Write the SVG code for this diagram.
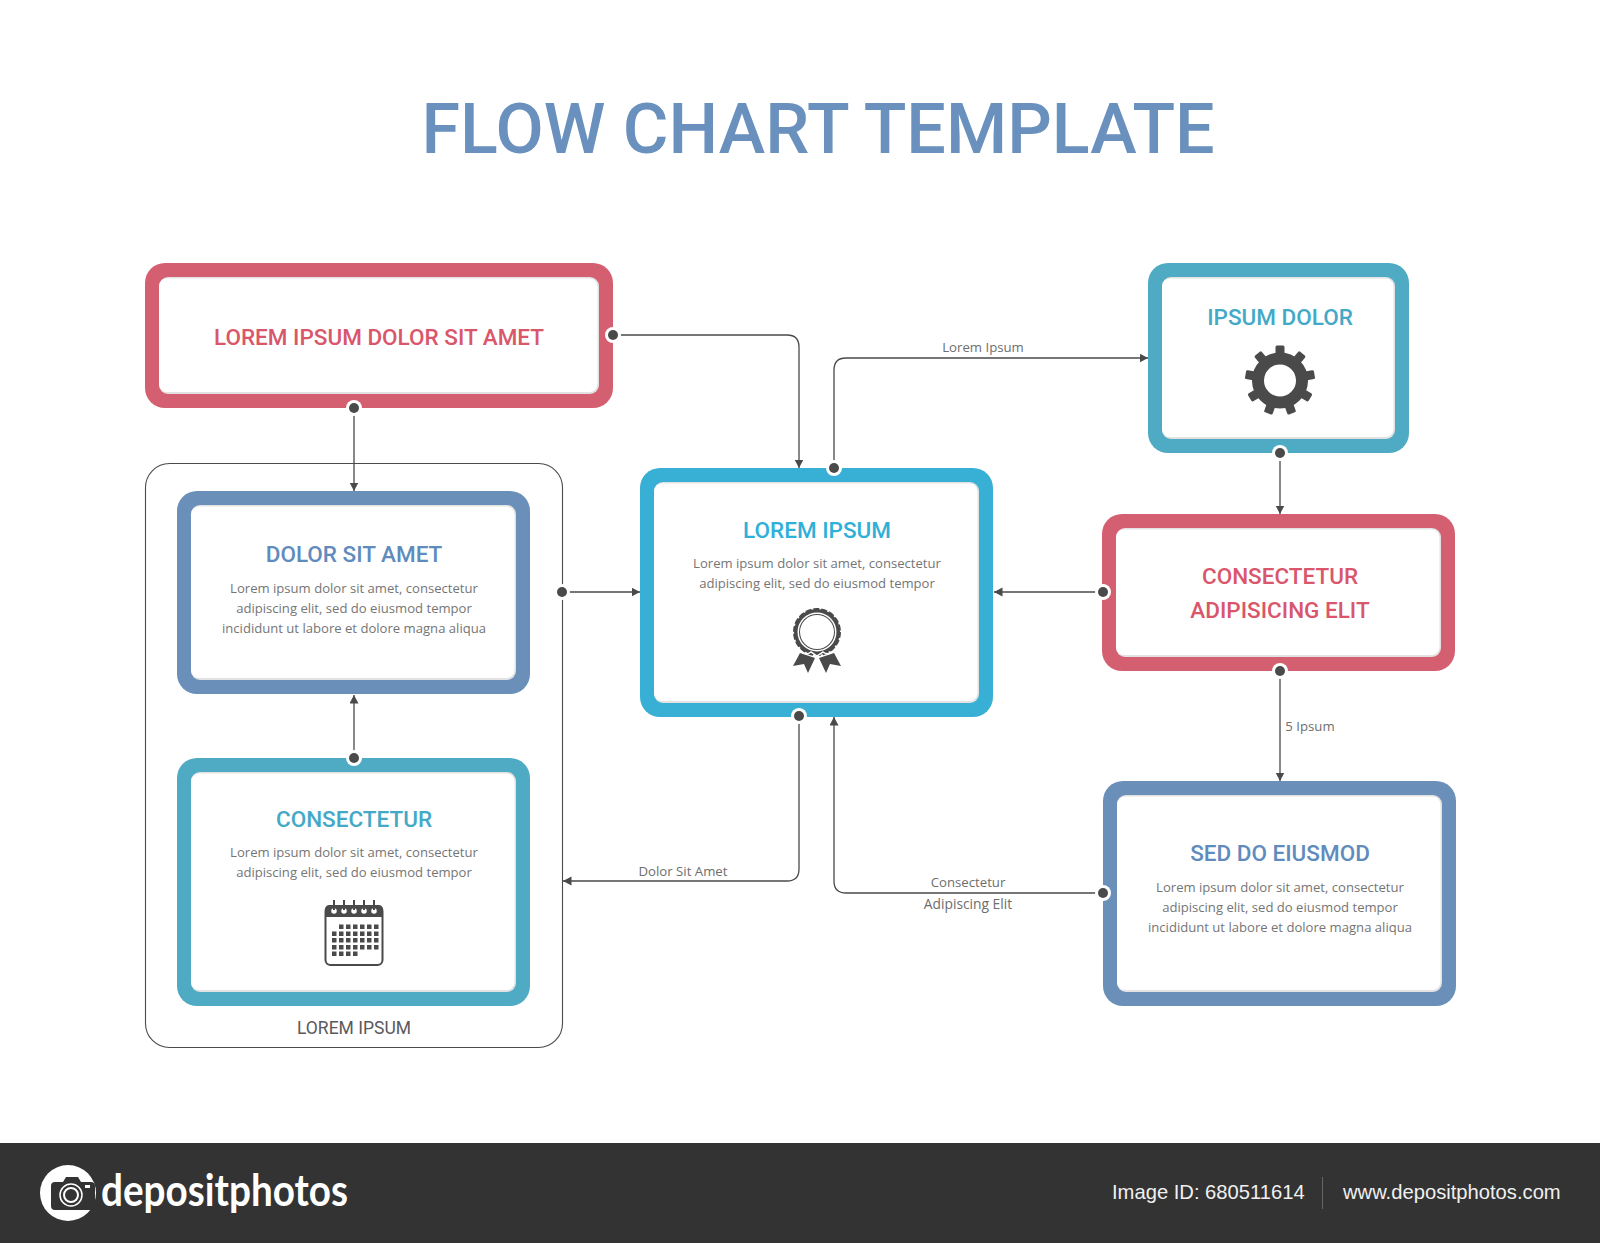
<svg xmlns="http://www.w3.org/2000/svg" xmlns:xlink="http://www.w3.org/1999/xlink" width="1600" height="1243" viewBox="0 0 1600 1243">
<style>
.t{font-family:Roboto,"Liberation Sans",sans-serif;font-weight:500;font-size:22.500px;text-anchor:middle}
.b{font-family:"Open Sans","Liberation Sans",sans-serif;font-size:13.100px;fill:#757575;text-anchor:middle}
.s{font-family:"Open Sans","Liberation Sans",sans-serif;font-size:13.200px;fill:#6e6e6e;text-anchor:middle}
.in{fill:#e2e2e2}
.wh{fill:#fff}
.c{fill:none;stroke:#4a4a4a;stroke-width:1.300}
.dk{fill:#4a4a4a}
.red{fill:#d9566b}.blu{fill:#5f8bbd}.cya{fill:#2fb0d8}.tea{fill:#44a9c6}
.f{font-family:"Liberation Sans",Arial,sans-serif;font-size:20.200px;fill:#f0f0f0}
</style>
<defs>
<marker id="ah" markerWidth="10" markerHeight="10" refX="8.500" refY="4.500" orient="auto" markerUnits="userSpaceOnUse"><path d="M0 0L8.500 4.500L0 9Z" fill="#4a4a4a"/></marker>
<g id="dot"><circle r="8" fill="#fff"/><circle r="5" fill="#4a4a4a"/></g>
<rect id="tooth" x="-4.500" y="-35" width="9" height="12" rx="1.500" fill="#4a4a4a"/>
</defs>
<rect width="1600" height="1243" fill="#fff"/>
<text x="818" y="153" text-anchor="middle" style="font-family:Roboto,'Liberation Sans',sans-serif;font-weight:500;font-size:70px;fill:#6a90bd">FLOW CHART TEMPLATE</text>

<g id="group-frame">
<rect x="145.500" y="463.500" width="417" height="584" rx="24" fill="none" stroke="#4a4a4a" stroke-width="1.100"/>
<text x="354" y="1034" class="t" style="font-size:17.500px;font-weight:400;fill:#5a5a5a">LOREM IPSUM</text>
</g>

<g id="connectors">
<path class="c" marker-end="url(#ah)" d="M613 335H787Q799 335 799 347V468"/>
<path class="c" marker-end="url(#ah)" d="M354 408V491"/>
<path class="c" marker-end="url(#ah)" d="M834 468V370Q834 358 846 358H1148"/>
<path class="c" marker-end="url(#ah)" d="M1280 453V514"/>
<path class="c" marker-end="url(#ah)" d="M1103 592H994"/>
<path class="c" marker-end="url(#ah)" d="M1280 671V781"/>
<path class="c" marker-end="url(#ah)" d="M1103 893H846Q834 893 834 881V717"/>
<path class="c" marker-end="url(#ah)" d="M799 716V869Q799 881 787 881H563"/>
<path class="c" marker-end="url(#ah)" d="M562 592H640"/>
<path class="c" marker-end="url(#ah)" d="M354 758V695"/>
<text class="s" x="983" y="352">Lorem Ipsum</text>
<text class="s" x="1310" y="731">5 Ipsum</text>
<text class="s" x="968" y="887">Consectetur</text>
<text class="s" x="968" y="909" style="font-size:13.800px">Adipiscing Elit</text>
<text class="s" x="683" y="876">Dolor Sit Amet</text>
</g>

<g id="node-top-red">
<rect x="145" y="263" width="468" height="145" rx="20" fill="#d45f70"/>
<rect class="in" x="159" y="277" width="440" height="117" rx="9"/><rect class="wh" x="159" y="278.500" width="438.500" height="113.500" rx="8"/>
<text class="t red" x="379" y="345">LOREM IPSUM DOLOR SIT AMET</text>
</g>

<g id="node-dolor">
<rect x="177" y="491" width="353" height="203" rx="20" fill="#6a8fb9"/>
<rect class="in" x="191" y="505" width="325" height="175" rx="9"/><rect class="wh" x="191" y="506.500" width="323.500" height="171.500" rx="8"/>
<text class="t blu" x="354" y="562">DOLOR SIT AMET</text>
<text class="b" x="354" y="593">Lorem ipsum dolor sit amet, consectetur</text>
<text class="b" x="354" y="613">adipiscing elit, sed do eiusmod tempor</text>
<text class="b" x="354" y="633">incididunt ut labore et dolore magna aliqua</text>
</g>

<g id="node-consectetur">
<rect x="177" y="758" width="353" height="248" rx="20" fill="#4fabc3"/>
<rect class="in" x="191" y="772" width="325" height="220" rx="9"/><rect class="wh" x="191" y="773.500" width="323.500" height="216.500" rx="8"/>
<text class="t tea" x="354" y="827">CONSECTETUR</text>
<text class="b" x="354" y="857">Lorem ipsum dolor sit amet, consectetur</text>
<text class="b" x="354" y="877">adipiscing elit, sed do eiusmod tempor</text>
<g id="icon-calendar">
<rect x="325.500" y="906" width="57" height="59" rx="5" fill="#fff" stroke="#4a4a4a" stroke-width="2"/>
<path class="dk" d="M325 917V910Q325 905 330 905H378Q383 905 383 910V917Z"/>
<g fill="#fff" stroke="#4a4a4a" stroke-width="1.500"><circle cx="334" cy="911" r="3.500"/><circle cx="344" cy="911" r="3.500"/><circle cx="354" cy="911" r="3.500"/><circle cx="364" cy="911" r="3.500"/><circle cx="374" cy="911" r="3.500"/></g>
<path d="M334 900V910M344 900V910M354 900V910M364 900V910M374 900V910" stroke="#4a4a4a" stroke-width="2"/>
<path class="dk" d="M339 924.500h4.500v4.500h-4.500zM346 924.500h4.500v4.500h-4.500zM353 924.500h4.500v4.500h-4.500zM360 924.500h4.500v4.500h-4.500zM367 924.500h4.500v4.500h-4.500zM374 924.500h4.500v4.500h-4.500zM332 931.500h4.500v4.500h-4.500zM339 931.500h4.500v4.500h-4.500zM346 931.500h4.500v4.500h-4.500zM353 931.500h4.500v4.500h-4.500zM360 931.500h4.500v4.500h-4.500zM367 931.500h4.500v4.500h-4.500zM374 931.500h4.500v4.500h-4.500zM332 938h4.500v4.500h-4.500zM339 938h4.500v4.500h-4.500zM346 938h4.500v4.500h-4.500zM353 938h4.500v4.500h-4.500zM360 938h4.500v4.500h-4.500zM367 938h4.500v4.500h-4.500zM374 938h4.500v4.500h-4.500zM332 945h4.500v4.500h-4.500zM339 945h4.500v4.500h-4.500zM346 945h4.500v4.500h-4.500zM353 945h4.500v4.500h-4.500zM360 945h4.500v4.500h-4.500zM367 945h4.500v4.500h-4.500zM374 945h4.500v4.500h-4.500zM332 951.500h4.500v4.500h-4.500zM339 951.500h4.500v4.500h-4.500zM346 951.500h4.500v4.500h-4.500zM353 951.500h4.500v4.500h-4.500z"/>
</g>
</g>

<g id="node-center">
<rect x="640" y="468" width="353" height="249" rx="20" fill="#38afd4"/>
<rect class="in" x="654" y="482" width="325" height="221" rx="9"/><rect class="wh" x="654" y="483.500" width="323.500" height="217.500" rx="8"/>
<text class="t cya" x="817" y="538">LOREM IPSUM</text>
<text class="b" x="817" y="568">Lorem ipsum dolor sit amet, consectetur</text>
<text class="b" x="817" y="588">adipiscing elit, sed do eiusmod tempor</text>
<g id="icon-medal">
<path class="dk" d="M800 653L815 658L808 673L804 664L793 666ZM834 653L819 658L826 673L830 664L841 666Z"/>
<circle cx="817" cy="632" r="23" fill="#4a4a4a" stroke="#4a4a4a" stroke-width="2" stroke-dasharray="6 2"/>
<circle cx="817" cy="632" r="19.500" fill="#fff"/><circle cx="817" cy="632" r="18" fill="#4a4a4a"/><circle cx="817" cy="632" r="17" fill="#fff"/>
<path d="M800 651Q806 656 811 652L817 656L823 652Q828 656 834 651" fill="none" stroke="#fff" stroke-width="1.500"/>
</g>
</g>

<g id="node-ipsum-dolor">
<rect x="1148" y="263" width="261" height="190" rx="20" fill="#4fabc3"/>
<rect class="in" x="1162" y="277" width="233" height="162" rx="9"/><rect class="wh" x="1162" y="278.500" width="231.500" height="158.500" rx="8"/>
<text class="t tea" x="1280" y="325">IPSUM DOLOR</text>
<g id="icon-gear" transform="translate(1280 380.500)">
<circle r="22" fill="none" stroke="#4a4a4a" stroke-width="12"/>
<use xlink:href="#tooth"/><use xlink:href="#tooth" transform="rotate(40)"/><use xlink:href="#tooth" transform="rotate(80)"/><use xlink:href="#tooth" transform="rotate(120)"/><use xlink:href="#tooth" transform="rotate(160)"/><use xlink:href="#tooth" transform="rotate(200)"/><use xlink:href="#tooth" transform="rotate(240)"/><use xlink:href="#tooth" transform="rotate(280)"/><use xlink:href="#tooth" transform="rotate(320)"/>
</g>
</g>

<g id="node-adipiscing">
<rect x="1102" y="514" width="353" height="157" rx="20" fill="#d45f70"/>
<rect class="in" x="1116" y="528" width="325" height="129" rx="9"/><rect class="wh" x="1116" y="529.500" width="323.500" height="125.500" rx="8"/>
<text class="t red" x="1280" y="584">CONSECTETUR</text>
<text class="t red" x="1280" y="618">ADIPISICING ELIT</text>
</g>

<g id="node-sed">
<rect x="1103" y="781" width="353" height="225" rx="20" fill="#6a8fb9"/>
<rect class="in" x="1117" y="795" width="325" height="197" rx="9"/><rect class="wh" x="1117" y="796.500" width="323.500" height="193.500" rx="8"/>
<text class="t blu" x="1280" y="861">SED DO EIUSMOD</text>
<text class="b" x="1280" y="892">Lorem ipsum dolor sit amet, consectetur</text>
<text class="b" x="1280" y="912">adipiscing elit, sed do eiusmod tempor</text>
<text class="b" x="1280" y="932">incididunt ut labore et dolore magna aliqua</text>
</g>

<g id="connector-dots">
<use xlink:href="#dot" x="613" y="335"/><use xlink:href="#dot" x="354" y="408"/><use xlink:href="#dot" x="834" y="468"/><use xlink:href="#dot" x="1280" y="453"/><use xlink:href="#dot" x="1103" y="592"/><use xlink:href="#dot" x="1280" y="671"/><use xlink:href="#dot" x="1103" y="893"/><use xlink:href="#dot" x="799" y="716"/><use xlink:href="#dot" x="562" y="592"/><use xlink:href="#dot" x="354" y="758"/>
</g>

<g id="footer">
<rect y="1143" width="1600" height="100" fill="#333"/>
<circle cx="68" cy="1193" r="28" fill="#fff"/>
<path fill="#333" d="M55 1182H63L66 1177H78L81 1182H91Q95 1182 95 1186V1206Q95 1210 91 1210H55Q51 1210 51 1206V1186Q51 1182 55 1182Z"/>
<circle cx="71" cy="1195" r="11" fill="none" stroke="#fff" stroke-width="1.500"/><circle cx="71" cy="1195" r="7" fill="none" stroke="#fff" stroke-width="2"/>
<rect x="85" y="1185" width="5" height="3" fill="#fff"/>
<text x="101" y="1206" textLength="247" lengthAdjust="spacingAndGlyphs" style="font-family:Lato,'Liberation Sans',sans-serif;font-weight:700;font-size:44px;fill:#fff">depositphotos</text>
<text class="f" x="1112" y="1199">Image ID: 680511614</text>
<rect x="1322" y="1177" width="1" height="32" fill="#666"/>
<text class="f" x="1343" y="1199">www.depositphotos.com</text>
</g>
</svg>
